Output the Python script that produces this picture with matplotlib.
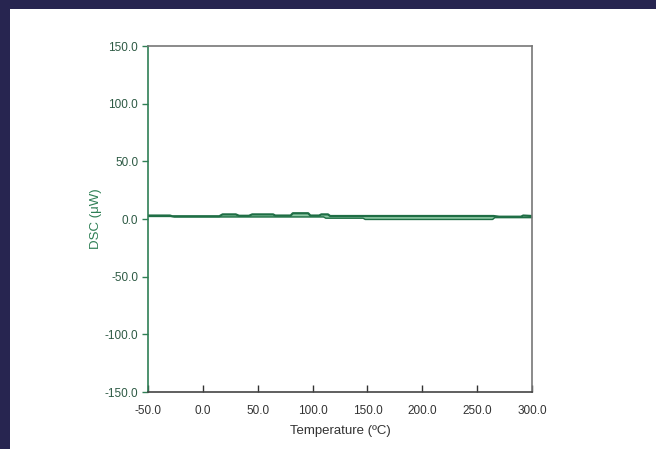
import numpy as np
import matplotlib.pyplot as plt
from matplotlib.patches import Rectangle

# DSC trace (temperature in C, heat flow in uW)
t_upper = [-50, -30, -28, 15, 18, 30, 33, 42, 45, 64, 66, 80, 82, 96, 98, 106, 108, 114, 116, 150, 265, 270, 290, 292, 300]
dsc_upper = [3.0, 3.0, 2.4, 2.4, 4.0, 4.0, 2.8, 2.8, 4.0, 4.0, 3.0, 3.0, 5.0, 5.0, 3.0, 3.0, 4.0, 4.0, 2.6, 2.6, 2.6, 2.0, 2.0, 3.0, 2.6]

t_lower = [-50, -28, -26, 110, 112, 146, 148, 264, 266, 300]
dsc_lower = [2.2, 2.2, 1.8, 1.8, 0.7, 0.7, -0.4, -0.4, 1.2, 1.2]

x_ticks = [-50, 0, 50, 100, 150, 200, 250, 300]
y_ticks = [-150, -100, -50, 0, 50, 100, 150]

dark_green = "#1f6e45"
light_green = "#8fcaa6"
label_green = "#2f7f55"

plt.rcParams['font.family'] = ['Liberation Sans', 'DejaVu Sans']

fig = plt.figure(figsize=(6.56, 4.49), dpi=100)
fig.patch.set_facecolor("#272550")
# white slide panel behind the chart
fig.patches.append(Rectangle((10 / 656, 0), 1, 1 - 9 / 449, transform=fig.transFigure,
                             facecolor="white", edgecolor="none", zorder=-10))

ax = fig.add_axes([148 / 656, 1 - 392 / 449, 384 / 656, 346 / 449])
ax.set_zorder(5)

# fill between the two traces, then the traces themselves
tt = np.linspace(-50, 300, 1401)
up = np.interp(tt, t_upper, dsc_upper)
lo = np.interp(tt, t_lower, dsc_lower)
ax.fill_between(tt, lo, up, where=lo < up, color=light_green, lw=0)
ax.plot(t_lower, dsc_lower, color=dark_green, lw=1.0)
ax.plot(t_upper, dsc_upper, color=dark_green, lw=1.6)

ax.set_xlim(-50, 300)
ax.set_ylim(-150, 150)
ax.set_xticks(x_ticks)
ax.set_yticks(y_ticks)
ax.set_xticklabels([f"{v:.1f}" for v in x_ticks])
ax.set_yticklabels([f"{v:.1f}" for v in y_ticks])

ax.tick_params(axis="x", direction="in", length=5, width=1, colors="#333333",
               labelsize=8.5, pad=9, top=False)
ax.tick_params(axis="y", direction="out", length=4, width=1, colors=label_green,
               labelsize=8.5, pad=3, right=False)
ax.tick_params(axis="y", labelcolor="#2d5a44")

ax.spines["left"].set_color(label_green)
ax.spines["bottom"].set_color("#444444")
ax.spines["top"].set_color("#777777")
ax.spines["right"].set_color("#777777")
for s in ax.spines.values():
    s.set_linewidth(1.2)

ax.set_xlabel("Temperature (ºC)", fontsize=9.5, color="#333333", labelpad=6)
ax.set_ylabel("DSC (μW)", fontsize=9.5, color=label_green, labelpad=2)

fig.savefig("out.png", dpi=100, facecolor=fig.get_facecolor())
